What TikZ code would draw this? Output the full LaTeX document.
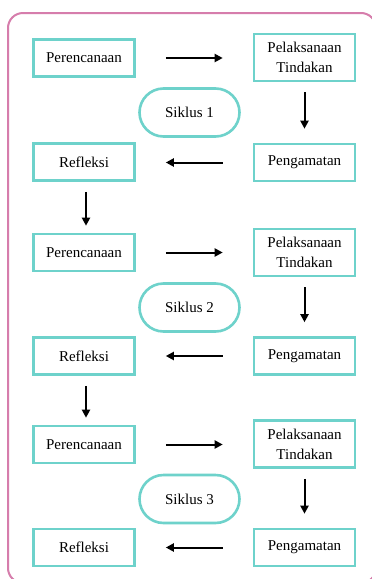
\documentclass[tikz,border=0pt]{standalone}
\usepackage{fontspec}
\setmainfont{Liberation Serif}
\usetikzlibrary{arrows.meta,shapes.misc}
\definecolor{teal1}{RGB}{110,210,203}
\definecolor{pink1}{RGB}{214,125,172}
\tikzset{
  box/.style={draw=teal1, line width=2.6pt, minimum width=101pt, inner sep=0pt, align=center, font=\fontsize{15}{20}\selectfont},
  lbox/.style={box, minimum height=37pt},
  tbox/.style={box, minimum height=47pt},
  cyc/.style={draw=teal1, line width=2.6pt, rounded rectangle, minimum width=100pt, minimum height=48pt, inner sep=0pt, font=\fontsize{15}{20}\selectfont},
  arr/.style={draw=black, line width=2pt, -{Triangle[length=8pt,width=8pt]}},
  harr/.style={arr, shorten <=30pt, shorten >=30pt},
  varr/.style={arr, shorten <=10pt, shorten >=14pt},
  larr/.style={arr, shorten <=10pt, shorten >=7pt},
}
\begin{document}
\begin{tikzpicture}[x=1pt,y=-1pt]
\useasboundingbox (0,0) rectangle (372,579);
\fill[white] (0,0) rectangle (372,579);
\begin{scope}
\clip (0,0) rectangle (372,579);
\draw[pink1, line width=2pt, rounded corners=15pt] (8,13) rectangle (376,583);
\end{scope}
% cycle 1
\node[lbox] (p1) at (84,58) {Perencanaan};
\node[tbox] (t1) at (304.5,57.5) {Pelaksanaan\\Tindakan};
\node[cyc] (s1) at (189.5,112.5) {Siklus 1};
\node[lbox] (r1) at (84,162) {Refleksi};
\node[lbox] (g1) at (304.5,162.5) {Pengamatan};
% cycle 2
\node[lbox] (p2) at (84,252.5) {Perencanaan};
\node[tbox] (t2) at (304.5,252.5) {Pelaksanaan\\Tindakan};
\node[cyc] (s2) at (189.5,307.5) {Siklus 2};
\node[lbox] (r2) at (84,356) {Refleksi};
\node[lbox] (g2) at (304.5,356) {Pengamatan};
% cycle 3
\node[lbox] (p3) at (84,444.5) {Perencanaan};
\node[tbox] (t3) at (304.5,444) {Pelaksanaan\\Tindakan};
\node[cyc] (s3) at (189.5,499) {Siklus 3};
\node[lbox] (r3) at (84,547.5) {Refleksi};
\node[lbox] (g3) at (304.5,547.5) {Pengamatan};
% arrows
\foreach \i in {1,2,3}{
  \draw[harr] (p\i.east) -- (p\i.east -| t\i.west);
  \draw[varr] (t\i.south) -- (g\i.north);
  \draw[harr] (g\i.west) -- (g\i.west -| r\i.east);
}
\draw[larr] (r1.south) ++(2,0) coordinate (a1) -- (a1 |- p2.north);
\draw[larr] (r2.south) ++(2,0) coordinate (a2) -- (a2 |- p3.north);
\end{tikzpicture}
\end{document}
